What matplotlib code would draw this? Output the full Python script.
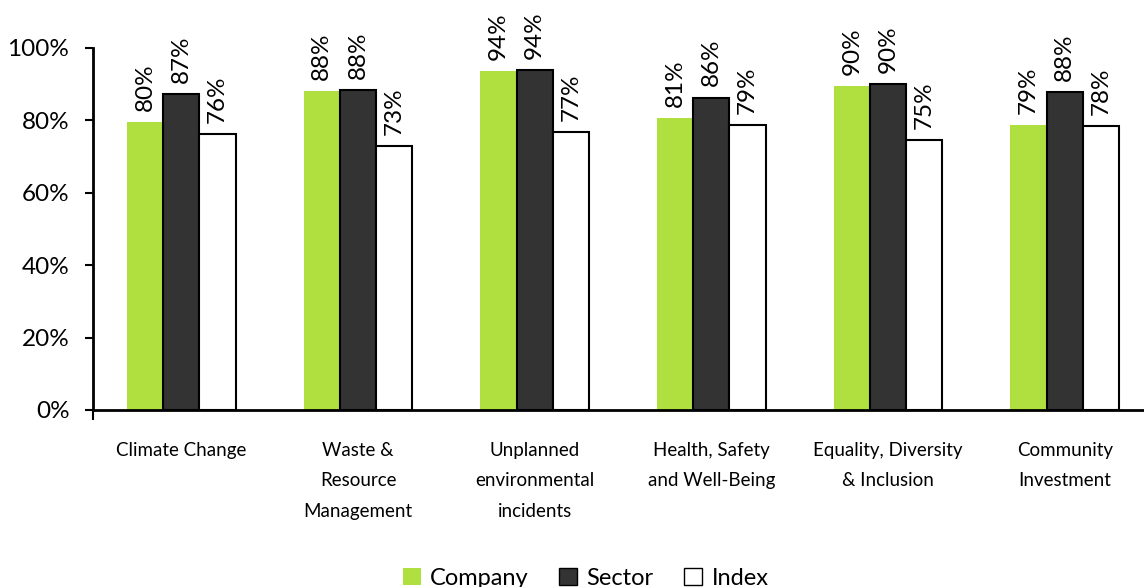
import matplotlib.pyplot as plt
import numpy as np
from matplotlib.patches import Patch

plt.rcParams['font.family'] = ['Lato', 'DejaVu Sans']

categories = ['Climate Change', 'Waste &\nResource\nManagement', 'Unplanned\nenvironmental\nincidents',
              'Health, Safety\nand Well-Being', 'Equality, Diversity\n& Inclusion', 'Community\nInvestment']
company = [79.6, 88.1, 93.7, 80.6, 89.6, 78.6]
sector = [87.4, 88.4, 94.0, 86.3, 90.1, 87.8]
index = [76.3, 73.0, 76.8, 78.6, 74.6, 78.4]

green = '#b0e040'
dark = '#333333'

fig = plt.figure(figsize=(11.44, 5.87), dpi=100, facecolor='white')
ax = fig.add_axes([93/1144, 1 - 410/587, 1060/1144, (410 - 48)/587])

x = np.arange(len(categories))
w = 0.205
series = [
    (company, green, 'none', 'Company'),
    (sector, dark, 'black', 'Sector'),
    (index, 'white', 'black', 'Index'),
]
for i, (vals, fc, ec, name) in enumerate(series):
    pos = x + (i - 1) * w
    ax.bar(pos, vals, width=w, color=fc, edgecolor=ec, linewidth=1.5 if ec != 'none' else 0, zorder=2)
    for p, v in zip(pos, vals):
        ax.annotate(f'{v:.0f}%', (p, v), xytext=(0, 8), textcoords='offset points',
                    rotation=90, ha='center', va='bottom', fontsize=17.5, annotation_clip=False)

ax.set_xlim(-0.5, len(categories) - 0.5)
ax.set_ylim(0, 100)
ax.set_yticks(np.arange(0, 101, 20))
ax.set_yticklabels([f'{t}%' for t in range(0, 101, 20)])
ax.tick_params(axis='y', direction='out', length=6, width=1.5, labelsize=17.5, pad=11)

ax.set_xticks([-0.5])
ax.set_xticklabels([''])
ax.tick_params(axis='x', direction='out', length=7, width=1.5)
ax.set_xticks(x, minor=True)
ax.set_xticklabels(categories, minor=True, fontsize=13.5, linespacing=1.95, va='top')
ax.tick_params(axis='x', which='minor', length=0, pad=23)

for s in ['top', 'right']:
    ax.spines[s].set_visible(False)
for s in ['left', 'bottom']:
    ax.spines[s].set_linewidth(2)

handles = [Patch(facecolor=green, edgecolor='none', label='Company'),
           Patch(facecolor=dark, edgecolor='black', label='Sector'),
           Patch(facecolor='white', edgecolor='black', label='Index')]
fig.legend(handles=handles, loc='center', bbox_to_anchor=(0.512, 0.015), ncol=3, frameon=False,
           fontsize=17, handlelength=0.75, handleheight=0.75, handletextpad=0.4, columnspacing=1.3)

fig.savefig('out.png', dpi=100, facecolor='white')
